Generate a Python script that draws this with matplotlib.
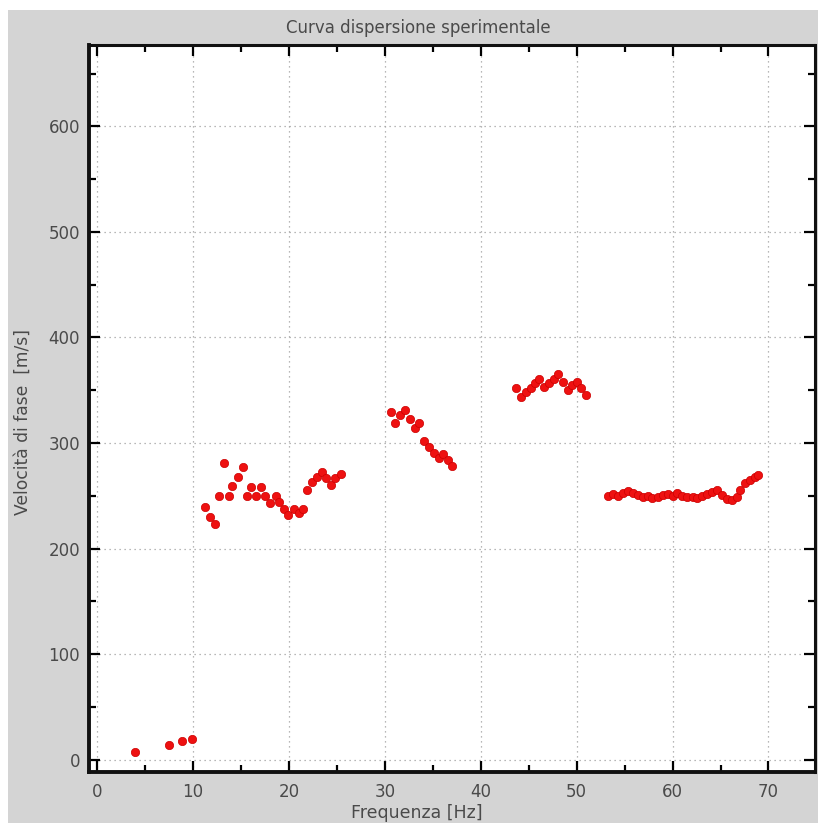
import matplotlib

matplotlib.use("Agg")
import matplotlib.pyplot as plt
from matplotlib.patches import Rectangle
from matplotlib.ticker import MultipleLocator

# ── data ───────────────────────────────────────────────────────────────────
freq_low = [3.98, 7.48, 8.86, 9.9]
vel_low = [7.3, 14.2, 17.4, 19.9]

freq_a = [11.2, 11.8, 12.25, 12.7, 13.2, 13.7, 14.1, 14.7, 15.2, 15.6,
          16.0, 16.6, 17.1, 17.5, 18.0, 18.6, 19.0, 19.5, 19.9, 20.5,
          21.0, 21.5, 21.9, 22.4, 22.9, 23.4, 23.9, 24.4, 24.8, 25.4]
vel_a = [239, 230, 223, 250, 281.5, 250, 259, 268, 277, 250,
         258, 250, 258, 250, 243, 250, 244, 238, 232, 238,
         234, 238, 256, 263, 268, 273, 267, 260, 267, 271]

freq_b = [30.6, 31.1, 31.6, 32.1, 32.6, 33.1, 33.6, 34.1, 34.6, 35.1,
          35.6, 36.1, 36.6, 37.0]
vel_b = [329, 319, 327, 331, 323, 314, 319, 302, 296, 291,
         286, 290, 284, 278]

freq_c = [43.7, 44.2, 44.7, 45.2, 45.7, 46.1, 46.6, 47.1, 47.6, 48.1,
          48.6, 49.1, 49.5, 50.0, 50.5, 51.0]
vel_c = [352.6, 344, 348, 352, 357, 361, 353.5, 357, 361, 365,
         358, 350, 355, 358, 352, 345.6]

freq_d = [53.3, 53.8, 54.3, 54.8, 55.4, 55.9, 56.4, 56.9, 57.4, 57.9,
          58.5, 59.0, 59.5, 60.0, 60.5, 61.0, 61.5, 62.1, 62.6, 63.1,
          63.6, 64.1, 64.6, 65.2, 65.7, 66.2, 66.7, 67.0, 67.6, 68.1,
          68.6, 68.9]
vel_d = [250, 252, 250, 253, 255, 252.5, 251, 249.4, 250, 247.8,
         249.4, 251, 252, 250, 252.5, 250, 249, 249.4, 247.8, 250,
         252, 254, 255.7, 251, 246.9, 246.2, 249.4, 255.7, 262, 265,
         268.3, 269.9]

x_ticks = [0, 10, 20, 30, 40, 50, 60, 70]
y_ticks = [0, 100, 200, 300, 400, 500, 600]

TITLE = "Curva dispersione sperimentale"
XLABEL = "Frequenza [Hz]"
YLABEL = "Velocità di fase  [m/s]"

GRAY_BG = "#d4d4d4"
TEXT_C = "#4a4a4a"
POINT_C = "#ee1111"


def main() -> None:
    fig = plt.figure(figsize=(8.18, 8.23), dpi=100)
    fig.patch.set_facecolor("white")
    W, H = 818, 823
    # gray panel (white strip at top and left, as in the reference)
    fig.patches.append(Rectangle((8 / W, 0), 1 - 8 / W, 1 - 10 / H,
                                 transform=fig.transFigure, facecolor=GRAY_BG,
                                 edgecolor="none", zorder=-10))

    ax = fig.add_axes([88.5 / W, 1 - 772 / H, (814.5 - 88.5) / W, (772 - 45) / H])
    ax.set_facecolor("white")

    freqs = [freq_low, freq_a, freq_b, freq_c, freq_d]
    vels = [vel_low, vel_a, vel_b, vel_c, vel_d]
    for f, v in zip(freqs, vels):
        ax.scatter(f, v, s=36, color=POINT_C, edgecolors="#cc0000",
                   linewidths=0.5, zorder=3)

    ax.set_xlim(-0.9, 74.8)
    ax.set_ylim(-11.5, 677)
    ax.set_xticks(x_ticks)
    ax.set_yticks(y_ticks)
    ax.xaxis.set_minor_locator(MultipleLocator(5))
    ax.yaxis.set_minor_locator(MultipleLocator(50))

    ax.grid(True, which="major", linestyle=(0, (1, 3)), color="#a0a0a0",
            linewidth=0.9)
    ax.tick_params(which="both", direction="in", top=True, right=True,
                   colors="black", labelcolor=TEXT_C, labelsize=12,
                   width=1.6)
    ax.tick_params(which="major", length=8)
    ax.tick_params(which="minor", length=5)
    ax.tick_params(axis="x", which="major", pad=8)
    ax.tick_params(axis="y", which="major", pad=6)
    for sp in ax.spines.values():
        sp.set_linewidth(2.2)
        sp.set_color("#111111")
    ax.spines["left"].set_linewidth(2.8)
    ax.spines["bottom"].set_linewidth(2.8)

    fig.text(418 / W, 1 - 28 / H, TITLE, ha="center", va="center",
             fontsize=12, color=TEXT_C)
    fig.text(417 / W, 1 - 813 / H, XLABEL, ha="center", va="center",
             fontsize=12.5, color=TEXT_C)
    fig.text(23 / W, 1 - 422 / H, YLABEL, ha="center", va="center",
             rotation=90, fontsize=12.3, color=TEXT_C)

    fig.savefig("out.png", dpi=100)
    plt.close(fig)


if __name__ == "__main__":
    main()
